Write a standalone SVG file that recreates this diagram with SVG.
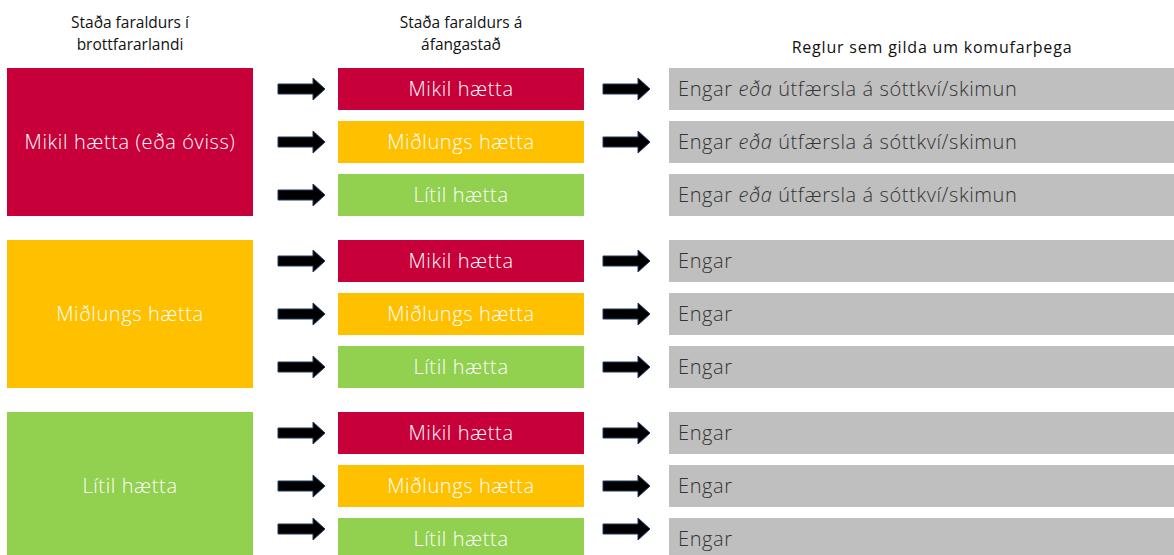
<svg xmlns="http://www.w3.org/2000/svg" width="1174" height="555" viewBox="0 0 1174 555">
<defs>
<style>
.red{fill:#C8003A}
.orn{fill:#FFC000}
.grn{fill:#92D050}
.gry{fill:#BFBFBF}
.hdr{font-family:"Open Sans","Liberation Sans",sans-serif;font-size:15.5px;fill:#111;text-anchor:middle}
.big{font-family:"Open Sans","Liberation Sans",sans-serif;font-size:20px;letter-spacing:0.6px;fill:#fff;text-anchor:middle;font-weight:300}
.mid{font-family:"Open Sans","Liberation Sans",sans-serif;font-size:20px;letter-spacing:0.6px;fill:#fff;text-anchor:middle;font-weight:300}
.rt{font-family:"Open Sans","Liberation Sans",sans-serif;font-size:20px;letter-spacing:0.6px;fill:#333;font-weight:300}
.arr{fill:#000;stroke:#1F3864;stroke-width:1}
</style>
<path id="ar" d="M0,-5 L35,-5 L35,-11 L47,0 L35,11 L35,5 L0,5 Z"/>
</defs>
<g id="headers">
<text class="hdr" x="130" y="28">Staða faraldurs í</text>
<text class="hdr" x="130" y="50">brottfararlandi</text>
<text class="hdr" x="461" y="28">Staða faraldurs á</text>
<text class="hdr" x="461" y="50">áfangastað</text>
<text class="hdr" x="932" y="53" style="font-size:16px;letter-spacing:0.8px">Reglur sem gilda um komufarþega</text>
</g>
<g id="src-high"><rect class="red" x="7" y="68" width="246" height="148"/><text class="big" x="130" y="149">Mikil hætta (eða óviss)</text></g>
<g id="src-med"><rect class="orn" x="7" y="240" width="246" height="148"/><text class="big" x="130" y="321">Miðlungs hætta</text></g>
<g id="src-low"><rect class="grn" x="7" y="412" width="246" height="148"/><text class="big" x="130" y="493">Lítil hætta</text></g>

<g id="d1a"><rect class="red" x="338" y="68" width="246" height="42"/><text class="mid" x="461" y="96">Mikil hætta</text></g>
<g id="d1b"><rect class="orn" x="338" y="121" width="246" height="42"/><text class="mid" x="461" y="149">Miðlungs hætta</text></g>
<g id="d1c"><rect class="grn" x="338" y="174" width="246" height="42"/><text class="mid" x="461" y="202">Lítil hætta</text></g>
<g id="d2a"><rect class="red" x="338" y="240" width="246" height="42"/><text class="mid" x="461" y="268">Mikil hætta</text></g>
<g id="d2b"><rect class="orn" x="338" y="293" width="246" height="42"/><text class="mid" x="461" y="321">Miðlungs hætta</text></g>
<g id="d2c"><rect class="grn" x="338" y="346" width="246" height="42"/><text class="mid" x="461" y="374">Lítil hætta</text></g>
<g id="d3a"><rect class="red" x="338" y="412" width="246" height="42"/><text class="mid" x="461" y="440">Mikil hætta</text></g>
<g id="d3b"><rect class="orn" x="338" y="465" width="246" height="42"/><text class="mid" x="461" y="493">Miðlungs hætta</text></g>
<g id="d3c"><rect class="grn" x="338" y="518" width="246" height="42"/><text class="mid" x="461" y="546">Lítil hætta</text></g>

<g id="r1a"><rect class="gry" x="669" y="68" width="505" height="42"/><text class="rt" x="678" y="96">Engar <tspan font-style="italic">eða</tspan> útfærsla á sóttkví/skimun</text></g>
<g id="r1b"><rect class="gry" x="669" y="121" width="505" height="42"/><text class="rt" x="678" y="149">Engar <tspan font-style="italic">eða</tspan> útfærsla á sóttkví/skimun</text></g>
<g id="r1c"><rect class="gry" x="669" y="174" width="505" height="42"/><text class="rt" x="678" y="202">Engar <tspan font-style="italic">eða</tspan> útfærsla á sóttkví/skimun</text></g>
<g id="r2a"><rect class="gry" x="669" y="240" width="505" height="42"/><text class="rt" x="678" y="268">Engar</text></g>
<g id="r2b"><rect class="gry" x="669" y="293" width="505" height="42"/><text class="rt" x="678" y="321">Engar</text></g>
<g id="r2c"><rect class="gry" x="669" y="346" width="505" height="42"/><text class="rt" x="678" y="374">Engar</text></g>
<g id="r3a"><rect class="gry" x="669" y="412" width="505" height="42"/><text class="rt" x="678" y="440">Engar</text></g>
<g id="r3b"><rect class="gry" x="669" y="465" width="505" height="42"/><text class="rt" x="678" y="493">Engar</text></g>
<g id="r3c"><rect class="gry" x="669" y="518" width="505" height="42"/><text class="rt" x="678" y="546">Engar</text></g>

<g id="connectors" class="arr">
<use href="#ar" x="278" y="89"/>
<use href="#ar" x="278" y="142"/>
<use href="#ar" x="278" y="195"/>
<use href="#ar" x="278" y="261"/>
<use href="#ar" x="278" y="314"/>
<use href="#ar" x="278" y="367"/>
<use href="#ar" x="278" y="433"/>
<use href="#ar" x="278" y="486"/>
<use href="#ar" x="278" y="529"/>
<use href="#ar" x="603" y="89"/>
<use href="#ar" x="603" y="142"/>
<use href="#ar" x="603" y="261"/>
<use href="#ar" x="603" y="314"/>
<use href="#ar" x="603" y="367"/>
<use href="#ar" x="603" y="433"/>
<use href="#ar" x="603" y="486"/>
<use href="#ar" x="603" y="529"/>
</g>
</svg>
